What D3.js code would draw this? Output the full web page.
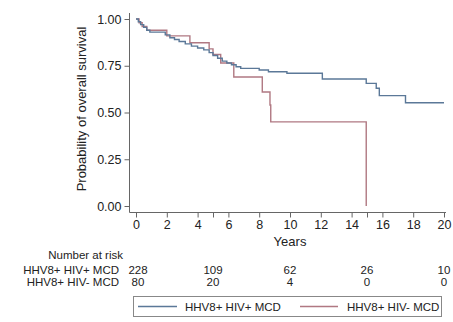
<!DOCTYPE html>
<meta charset="utf-8">
<style>
body { margin: 0; background: #fff; }
svg { display: block; font-family: "Liberation Sans", Arial, sans-serif; }
.axis text { font-size: 12.5px; fill: #222; }
.axis line, .axis path { stroke: #666; }
.risk { font-size: 11.5px; fill: #222; }
</style>
<svg width="453" height="322"></svg>
<script src="https://d3js.org/d3.v7.min.js"></script>
<script>

// Kaplan-Meier steps (years, survival)
var hivPosTimes = [0, 0.15, 0.3, 0.5, 0.7, 0.9, 1.9, 2.2, 2.5, 2.8, 3.2, 3.6, 4.0, 4.4, 4.75, 5.0, 5.3, 5.6, 5.9, 6.2, 6.5, 6.8, 8.0, 8.6, 9.8, 12.1, 14.95, 15.6, 15.8, 17.5, 20];
var hivPosSurv  = [1, 0.985, 0.97, 0.955, 0.94, 0.93, 0.915, 0.9, 0.89, 0.88, 0.867, 0.855, 0.845, 0.835, 0.82, 0.805, 0.79, 0.775, 0.765, 0.755, 0.745, 0.736, 0.727, 0.718, 0.71, 0.679, 0.656, 0.63, 0.59, 0.552, 0.552];
var hivNegTimes = [0, 0.2, 0.4, 0.7, 2.0, 3.5, 4.75, 5.0, 5.5, 6.35, 8.2, 8.7, 8.75, 14.95];
var hivNegSurv  = [1, 0.98, 0.96, 0.94, 0.91, 0.873, 0.84, 0.81, 0.765, 0.69, 0.61, 0.54, 0.45, 0.0];

var groups = ["HHV8+ HIV+ MCD", "HHV8+ HIV- MCD"];
var riskTimes = [0, 5, 10, 15, 20];
var riskHivPos = [228, 109, 62, 26, 10];
var riskHivNeg = [80, 20, 4, 0, 0];
var yTicks = [0, 0.25, 0.5, 0.75, 1];
var xTicks = [0, 2, 4, 6, 8, 10, 12, 14, 16, 18, 20];

var colors = ["#5b7898", "#b07882"];

var svg = d3.select("svg");

var x = d3.scaleLinear().domain([0, 20]).range([136, 444]);
var y = d3.scaleLinear().domain([0, 1]).range([206, 19]);

var axisY0 = 212.5, axisX0 = 129.5;

// axes lines
svg.append("line")
  .attr("x1", axisX0).attr("x2", axisX0)
  .attr("y1", 13).attr("y2", axisY0)
  .attr("stroke", "#666");
svg.append("line")
  .attr("x1", axisX0).attr("x2", x(20) + 2)
  .attr("y1", axisY0).attr("y2", axisY0)
  .attr("stroke", "#666");

var gy = svg.append("g").attr("class", "axis")
  .attr("transform", "translate(" + axisX0 + ",0)")
  .call(d3.axisLeft(y).tickValues(yTicks).tickFormat(d3.format(".2f")).tickSize(5).tickPadding(3));
gy.select(".domain").remove();

var gx = svg.append("g").attr("class", "axis")
  .attr("transform", "translate(0," + axisY0 + ")")
  .call(d3.axisBottom(x).tickValues(xTicks).tickFormat(d3.format("d")).tickSize(5).tickPadding(3));
gx.select(".domain").remove();

var gxm = svg.append("g").attr("class", "axis")
  .attr("transform", "translate(0," + axisY0 + ")")
  .call(d3.axisBottom(x).tickValues([5, 15]).tickFormat("").tickSize(5));
gxm.select(".domain").remove();

svg.append("text")
  .attr("class", "axis")
  .attr("transform", "translate(86,109) rotate(-90)")
  .attr("text-anchor", "middle")
  .style("font-size", "13px").style("fill", "#222")
  .text("Probability of overall survival");

svg.append("text")
  .attr("x", x(10)).attr("y", 246)
  .attr("text-anchor", "middle")
  .style("font-size", "13px").style("fill", "#222")
  .text("Years");

// KM curves
var line = d3.line()
  .x(function(d) { return x(d[0]); })
  .y(function(d) { return y(d[1]); })
  .curve(d3.curveStepAfter);

var series = [
  d3.zip(hivPosTimes, hivPosSurv),
  d3.zip(hivNegTimes, hivNegSurv)
];

// draw the HIV- curve first so blue sits on top, as in the picture
[1, 0].forEach(function(i) {
  svg.append("path")
    .datum(series[i])
    .attr("fill", "none")
    .attr("stroke", colors[i])
    .attr("stroke-width", 1.4)
    .attr("d", line);
});

// number at risk table
svg.append("text").attr("class", "risk")
  .attr("x", 123).attr("y", 259).attr("text-anchor", "end")
  .text("Number at risk");

[riskHivPos, riskHivNeg].forEach(function(vals, i) {
  var yy = 274 + i * 12;
  svg.append("text").attr("class", "risk")
    .attr("x", 119).attr("y", yy).attr("text-anchor", "end")
    .text(groups[i]);
  svg.selectAll(null)
    .data(vals)
    .enter().append("text")
      .attr("class", "risk")
      .attr("x", function(d, j) { return x(riskTimes[j]) + (j === 0 ? 2 : 0); })
      .attr("y", yy)
      .attr("text-anchor", "middle")
      .text(function(d) { return d; });
});

// legend
var lg = svg.append("g");
lg.append("rect")
  .attr("x", 133.5).attr("y", 296.5)
  .attr("width", 308).attr("height", 20)
  .attr("fill", "#fff").attr("stroke", "#888");

var legX = [[138, 177, 185], [300, 338, 347]];
groups.forEach(function(name, i) {
  lg.append("line")
    .attr("x1", legX[i][0]).attr("x2", legX[i][1])
    .attr("y1", 306.5).attr("y2", 306.5)
    .attr("stroke", colors[i]).attr("stroke-width", 1.4);
  lg.append("text").attr("class", "risk")
    .attr("x", legX[i][2]).attr("y", 311)
    .text(name);
});

</script>
